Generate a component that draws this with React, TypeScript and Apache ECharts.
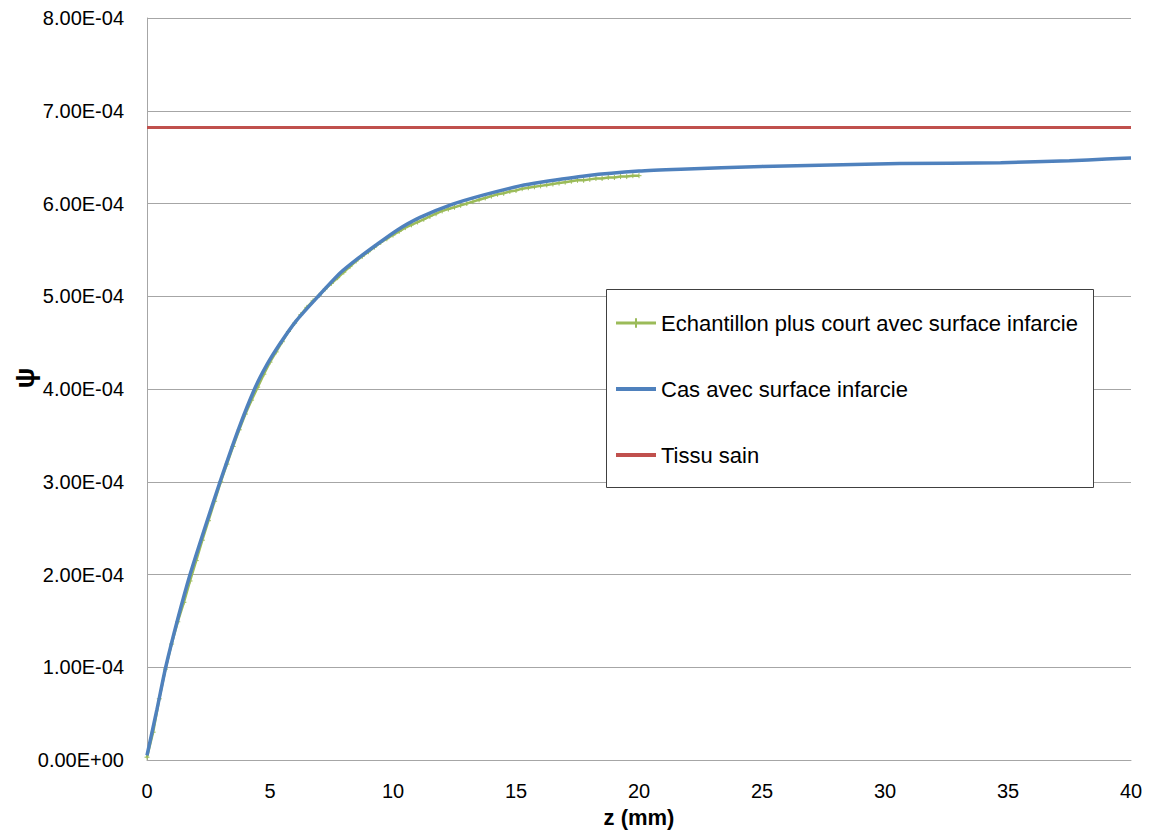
import React, { useEffect, useRef } from "react";
import * as echarts from "echarts";

// z (mm) and psi values
const shortZ = [
  0, 0.25, 0.5, 0.75, 1, 1.25, 1.5, 1.75, 2, 2.25, 2.5, 2.75, 3, 3.25, 3.5, 3.75,
  4, 4.25, 4.5, 4.75, 5, 5.25, 5.5, 5.75, 6, 6.25, 6.5, 6.75, 7, 7.25, 7.5, 7.75,
  8, 8.25, 8.5, 8.75, 9, 9.25, 9.5, 9.75, 10, 10.25, 10.5, 10.75, 11, 11.25, 11.5, 11.75,
  12, 12.25, 12.5, 12.75, 13, 13.25, 13.5, 13.75, 14, 14.25, 14.5, 14.75, 15, 15.25, 15.5, 15.75,
  16, 16.25, 16.5, 16.75, 17, 17.25, 17.5, 17.75, 18, 18.25, 18.5, 18.75, 19, 19.25, 19.5, 19.75, 20,
];
const shortPsi = [
  0.03e-4, 0.3e-4, 0.66e-4, 0.98e-4, 1.25e-4, 1.49e-4, 1.7e-4, 1.93e-4, 2.15e-4, 2.37e-4, 2.58e-4, 2.79e-4,
  3.0e-4, 3.19e-4, 3.38e-4, 3.56e-4, 3.73e-4, 3.88e-4, 4.02e-4, 4.16e-4, 4.29e-4, 4.4e-4, 4.51e-4, 4.62e-4,
  4.71e-4, 4.8e-4, 4.88e-4, 4.95e-4, 5.01e-4, 5.08e-4, 5.14e-4, 5.2e-4, 5.26e-4, 5.32e-4, 5.38e-4, 5.43e-4,
  5.48e-4, 5.53e-4, 5.58e-4, 5.62e-4, 5.66e-4, 5.7e-4, 5.74e-4, 5.77e-4, 5.8e-4, 5.83e-4, 5.86e-4, 5.89e-4,
  5.92e-4, 5.94e-4, 5.96e-4, 5.98e-4, 6.0e-4, 6.02e-4, 6.04e-4, 6.06e-4, 6.08e-4, 6.1e-4, 6.11e-4, 6.13e-4,
  6.14e-4, 6.16e-4, 6.17e-4, 6.18e-4, 6.19e-4, 6.2e-4, 6.21e-4, 6.22e-4, 6.23e-4, 6.24e-4, 6.25e-4, 6.25e-4,
  6.26e-4, 6.27e-4, 6.27e-4, 6.28e-4, 6.28e-4, 6.29e-4, 6.29e-4, 6.3e-4, 6.3e-4,
];

const caseZ = [
  0, 0.4, 0.76, 1.25, 1.75, 2.36, 2.97, 3.71, 4.39, 4.87, 5.41, 6.08, 6.96, 7.85, 8.59, 9.3, 10.15,
  11.1, 12.4, 13.66, 15.16, 16, 17.87, 20, 21.7, 25, 30.6, 34.7, 37.5, 39, 40,
];
const casePsi = [
  0.05e-4, 0.54e-4, 1.0e-4, 1.52e-4, 2.0e-4, 2.51e-4, 3.0e-4, 3.56e-4, 4.01e-4, 4.26e-4, 4.49e-4, 4.74e-4,
  5.0e-4, 5.25e-4, 5.41e-4, 5.55e-4, 5.71e-4, 5.85e-4, 5.99e-4, 6.09e-4, 6.19e-4, 6.23e-4, 6.3e-4, 6.35e-4,
  6.37e-4, 6.4e-4, 6.43e-4, 6.44e-4, 6.46e-4, 6.48e-4, 6.49e-4,
];

const healthyZ = [0, 40];
const healthyPsi = [6.82e-4, 6.82e-4];

const seriesNames = [
  "Echantillon plus court avec surface infarcie",
  "Cas avec surface infarcie",
  "Tissu sain",
];

const xLabel = "z (mm)";
const yLabel = "ψ";

function fmtExp(v: number): string {
  if (Math.abs(v) < 1e-12) return "0.00E+00";
  const [m, e] = v.toExponential(2).split("e");
  const n = parseInt(e, 10);
  return m + "E" + (n < 0 ? "-" : "+") + String(Math.abs(n)).padStart(2, "0");
}

const zip = (a: number[], b: number[]) => a.map((x, i) => [x, b[i]]);

export default function App() {
  const ref = useRef<HTMLDivElement>(null);
  useEffect(() => {
    if (!ref.current) return;
    const chart = echarts.init(ref.current, undefined, { renderer: "svg" });
    const font = "Liberation Sans";
    chart.setOption({
      animation: false,
      backgroundColor: "#ffffff",
      textStyle: { fontFamily: font },
      grid: { left: 147, right: 19, top: 18, bottom: 71, containLabel: false, outerBoundsMode: "none" },
      xAxis: {
        type: "value",
        min: 0,
        max: 40,
        interval: 5,
        name: xLabel,
        nameLocation: "middle",
        nameGap: 46,
        nameTextStyle: { fontSize: 22, fontWeight: "bold", color: "#000", fontFamily: font },
        axisLine: { show: true, lineStyle: { color: "#A6A6A6", width: 1 } },
        axisTick: { show: false },
        splitLine: { show: false },
        axisLabel: { color: "#000", fontSize: 20, margin: 21, fontFamily: font },
      },
      yAxis: {
        type: "value",
        min: 0,
        max: 8e-4,
        interval: 1e-4,
        axisLine: { show: true, lineStyle: { color: "#A6A6A6", width: 1 } },
        axisTick: { show: false },
        splitLine: { show: true, lineStyle: { color: "#A6A6A6", width: 1 } },
        axisLabel: { color: "#000", fontSize: 20, margin: 23, fontFamily: font, formatter: fmtExp },
      },
      legend: {
        orient: "vertical",
        left: 614,
        top: 311,
        itemGap: 42,
        itemWidth: 40,
        itemHeight: 12,
        padding: 0,
        textStyle: { fontSize: 22, color: "#000", fontFamily: font, lineHeight: 24 },
        data: [
          { name: seriesNames[0], lineStyle: { width: 3 } },
          { name: seriesNames[1], itemStyle: { opacity: 0 }, lineStyle: { width: 4 } },
          { name: seriesNames[2], itemStyle: { opacity: 0 }, lineStyle: { width: 4 } },
        ],
      },
      graphic: [
        {
          type: "rect",
          z: 3,
          shape: { x: 606.5, y: 289.5, width: 487, height: 198 },
          style: { fill: "#ffffff", stroke: "#404040", lineWidth: 1 },
        },
        {
          type: "text",
          x: 24,
          y: 378,
          rotation: Math.PI / 2,
          style: {
            text: yLabel,
            fill: "#000",
            fontSize: 28,
            fontWeight: "bold",
            fontFamily: font,
            align: "center",
            verticalAlign: "middle",
          },
        },
      ],
      series: [
        {
          name: seriesNames[0],
          type: "line",
          data: zip(shortZ, shortPsi),
          z: 2,
          symbol: "path://M0,4L8,4M4,0L4,8",
          symbolSize: 5,
          showSymbol: true,
          itemStyle: { color: "#9BBB59", borderColor: "#9BBB59", borderWidth: 1 },
          lineStyle: { color: "#9BBB59", width: 2.5 },
        },
        {
          name: seriesNames[1],
          type: "line",
          data: zip(caseZ, casePsi),
          z: 3,
          symbol: "none",
          smooth: 0.2,
          itemStyle: { color: "#4F81BD" },
          lineStyle: { color: "#4F81BD", width: 3.5 },
        },
        {
          name: seriesNames[2],
          type: "line",
          data: zip(healthyZ, healthyPsi),
          z: 3,
          symbol: "none",
          itemStyle: { color: "#C0504D" },
          lineStyle: { color: "#C0504D", width: 3 },
        },
      ],
    });
    return () => chart.dispose();
  }, []);
  return (
    <div
      ref={ref}
      style={{ position: "fixed", left: 0, top: 0, width: 1150, height: 831, background: "#fff" }}
    />
  );
}
